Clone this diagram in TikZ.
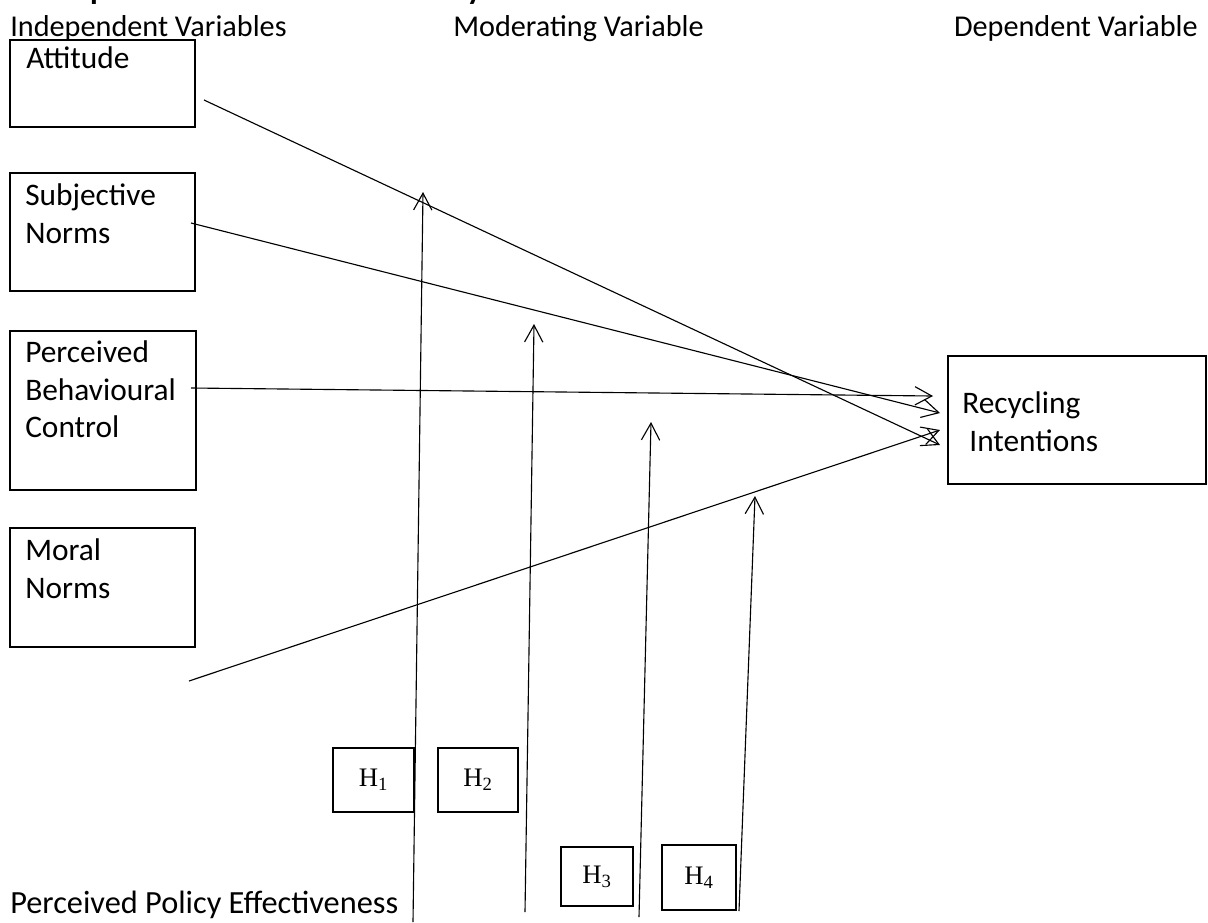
\documentclass[tikz,border=0pt]{standalone}
\usepackage{fontspec}
\setmainfont{Carlito}
\newfontfamily\timesfont{Liberation Serif}
\usetikzlibrary{arrows.meta}

\tikzset{
  varbox/.style={draw, line width=1.4pt, inner sep=0pt},
  hbox/.style={draw, line width=0.9pt, inner sep=0pt, font=\timesfont\fontsize{19}{21}\selectfont},
  txt/.style={anchor=north west, inner sep=0pt, align=left, font=\fontsize{22.3}{27}\selectfont},
  head/.style={inner sep=0pt, font=\fontsize{21.5}{26}\selectfont},
  link/.style={line width=0.8pt, -{Straight Barb[length=12pt,width=13pt]}},
}

\begin{document}
\begin{tikzpicture}[x=0.025cm,y=-0.025cm]
\path[use as bounding box, clip] (0,0) rectangle (1208,922);

% headings
\node[head, anchor=base west, font=\bfseries\fontsize{22.5}{27}\selectfont] (title) at (10,-1) {Conceptual Framework of the Study};
\node[head, anchor=base west] (indep) at (10,36) {Independent Variables};
\node[head, anchor=base west] (moder) at (453,36) {Moderating Variable};
\node[head, anchor=base east] (dep) at (1198,36) {Dependent Variable};

% independent variables
\node[varbox, minimum width=4.625cm, minimum height=2.175cm] (att) at (102.5,83.5) {};
\node[varbox, minimum width=4.625cm, minimum height=2.95cm] (subj) at (102.5,232) {};
\node[varbox, minimum width=4.65cm, minimum height=3.975cm] (pbc) at (103,410.5) {};
\node[varbox, minimum width=4.625cm, minimum height=2.975cm] (moral) at (102.5,587.5) {};
\node[txt] (attlbl) at ([shift={(17,7)}]att.north west) {Attitude};
\node[txt] (subjlbl) at ([shift={(16,11)}]subj.north west) {Subjective\\Norms};
\node[txt] (pbclbl) at ([shift={(16,10)}]pbc.north west) {Perceived\\Behavioural\\Control};
\node[txt] (morallbl) at ([shift={(16,11)}]moral.north west) {Moral\\Norms};

% dependent variable
\node[varbox, minimum width=6.45cm, minimum height=3.2cm] (rec) at (1077,420) {};
\node[txt] (reclbl) at ([shift={(15,36)}]rec.north west) {Recycling\\\ Intentions};

% hypotheses
\node[hbox, minimum width=2.025cm, minimum height=1.6cm] (h1) at (373.5,780) {H\textsubscript{1}\hspace{11pt}};
\node[hbox, minimum width=2.0cm, minimum height=1.6cm] (h2) at (478,780) {H\textsubscript{2}\hspace{10.5pt}};
\node[hbox, minimum width=1.8cm, minimum height=1.475cm] (h3) at (597,876.5) {H\textsubscript{3}\hspace{5pt}};
\node[hbox, minimum width=1.85cm, minimum height=1.625cm] (h4) at (699,877.5) {H\textsubscript{4}\hspace{6pt}};

\node[head, anchor=base west, font=\fontsize{23}{27}\selectfont] (ppe) at (10,913) {Perceived Policy Effectiveness};

% direct paths
\coordinate (attout) at (204,100);
\coordinate (subjout) at (191,223);
\coordinate (pbcout) at (191,388);
\coordinate (moralout) at (189,681);
\coordinate (recatt) at (940,445);
\coordinate (recsubj) at (940,413);
\coordinate (recpbc) at (933,396);
\coordinate (recmoral) at (940,430);
\draw[link] (attout) -- (recatt);
\draw[link] (subjout) -- (recsubj);
\draw[link] (pbcout) -- (recpbc);
\draw[link] (moralout) -- (recmoral);

% moderating paths
\coordinate (m1a) at (413,922); \coordinate (m1b) at (423,192);
\coordinate (m2a) at (525,912); \coordinate (m2b) at (534,324);
\coordinate (m3a) at (639,917); \coordinate (m3b) at (651,422);
\coordinate (m4a) at (739,911); \coordinate (m4b) at (755,496);
\draw[link] (m1a) -- (m1b);
\draw[link] (m2a) -- (m2b);
\draw[link] (m3a) -- (m3b);
\draw[link] (m4a) -- (m4b);
\end{tikzpicture}
\end{document}
